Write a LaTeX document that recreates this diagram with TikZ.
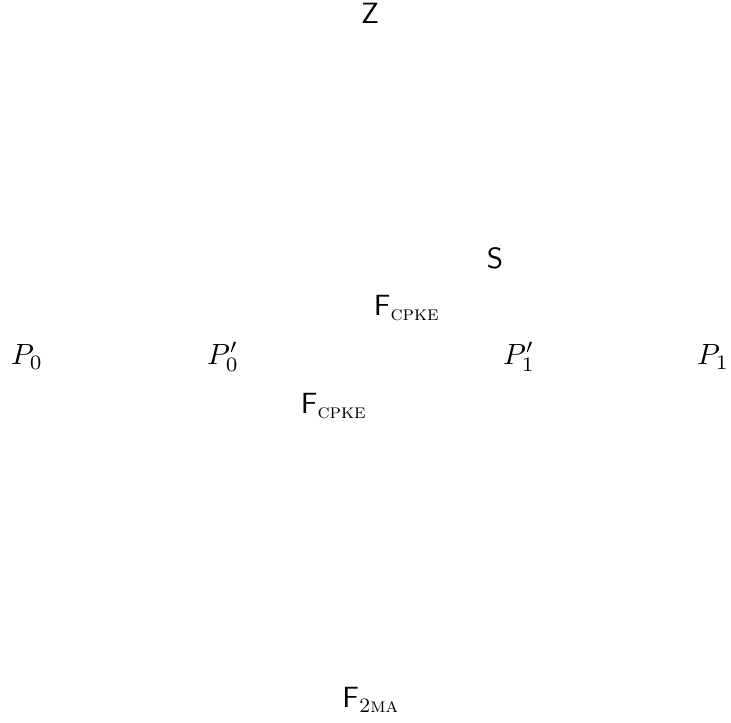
\documentclass[tikz,border=0pt]{standalone}
\usepackage{amsmath}
\begin{document}
\begin{tikzpicture}[x=0.3415pt,y=-0.3415pt,lbl/.style={inner sep=0pt}]
\useasboundingbox (0,0) rectangle (731,722);
\node[lbl] (Z) at (370,13) {$\mathsf{Z}$};
\node[lbl] (S) at (495,258) {$\mathsf{S}$};
\node[lbl] (Ft) at (407,308) {$\mathsf{F}_{\textsc{cpke}}$};
\node[lbl] (P0) at (27,357) {$P_0$};
\node[lbl] (P0p) at (223,357) {$P'_0$};
\node[lbl] (P1p) at (519,357) {$P'_1$};
\node[lbl] (P1) at (713,357) {$P_1$};
\node[lbl] (Fb) at (334,406) {$\mathsf{F}_{\textsc{cpke}}$};
\node[lbl] (F2) at (371,700) {$\mathsf{F}_{\textsc{2ma}}$};
\end{tikzpicture}
\end{document}
